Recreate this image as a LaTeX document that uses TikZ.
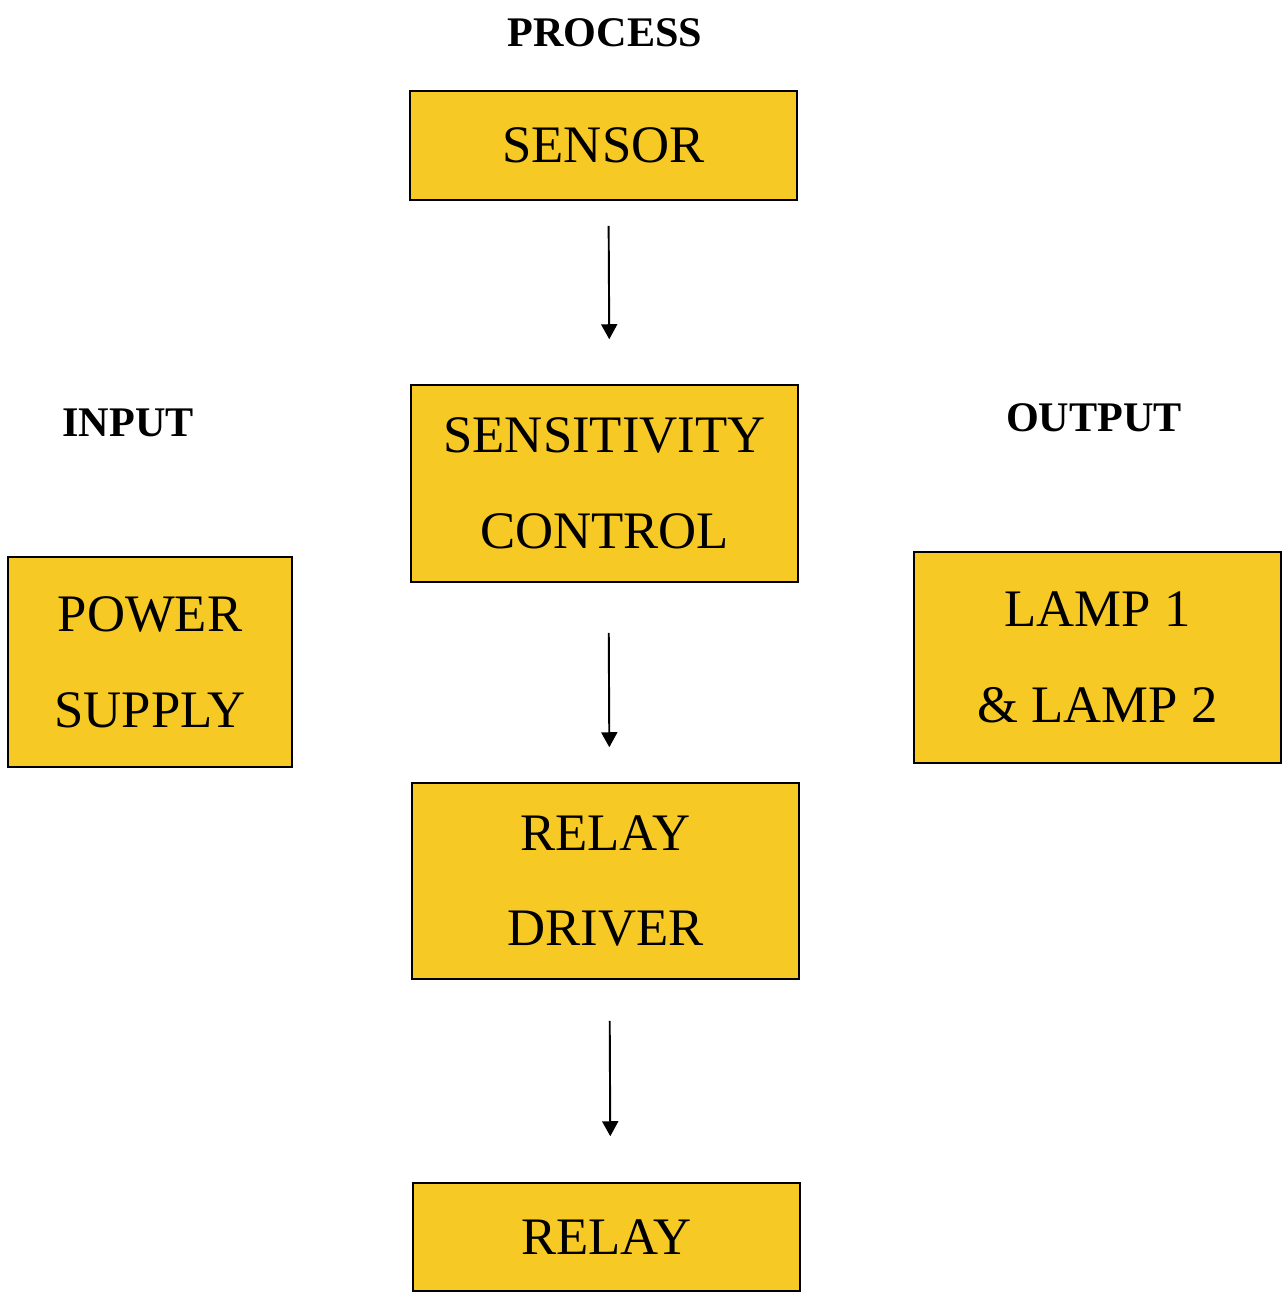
\documentclass[tikz,border=0pt]{standalone}
\usepackage{fontspec}
\setmainfont{Liberation Serif}
\usepackage{tikz}
\usetikzlibrary{arrows.meta,%
                positioning}
\definecolor{boxyellow}{RGB}{246,201,36}

\begin{document}
\begin{tikzpicture}[x=0.02cm,y=-0.02cm,
  block/.style={draw=black,line width=0.9pt,fill=boxyellow,align=center,
    inner sep=0pt,minimum width=7.74cm,
    font=\fontsize{30}{54.6}\selectfont},
  heading/.style={font=\fontsize{24}{28}\selectfont\bfseries},
  flow/.style={line width=1.1pt,-{Triangle[length=0.3cm,width=0.32cm]}}]
\useasboundingbox (0,0) rectangle (1283,1293);
%\fill[white] (0,0) rectangle (1283,1293);
\node[heading] (process) at (605,33) {PROCESS};
\node[heading] (input) at (128,423) {INPUT};
\node[heading] (output) at (1094,418) {OUTPUT};
\node[block,minimum height=2.18cm] (sensor) at (603.5,145.5) {SENSOR};
\node[block,minimum height=3.94cm] (sens) at (604.5,483.5) {SENSITIVITY\\CONTROL};
\node[block,minimum height=3.92cm] (driver) at (605.5,881) {RELAY\\DRIVER};
\node[block,minimum height=2.16cm] (relay) at (606.5,1237) {RELAY};
\node[block,minimum width=5.68cm,minimum height=4.2cm] (power) at (150,662) {POWER\\SUPPLY};
\node[block,minimum width=7.34cm,minimum height=4.22cm] (lamp) at (1097.5,657.5) {LAMP 1\\\& LAMP 2};
\draw[flow,shorten <=0.5cm,shorten >=0.9cm] ([xshift=0.1cm]sensor.south) -- ([xshift=0.1cm]sens.north);
\draw[flow,shorten <=1cm,shorten >=0.7cm] ([xshift=0.08cm]sens.south) -- ([xshift=0.08cm]driver.north);
\draw[flow,shorten <=0.82cm,shorten >=0.92cm] ([xshift=0.08cm]driver.south) -- ([xshift=0.08cm]relay.north);
\end{tikzpicture}
\end{document}
